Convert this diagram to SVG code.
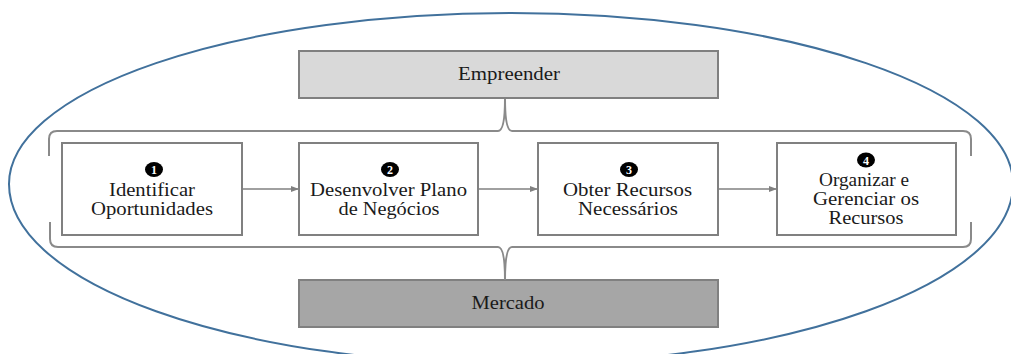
<svg xmlns="http://www.w3.org/2000/svg" width="1011" height="354" viewBox="0 0 1011 354">
<style>
.box{fill:#fff;stroke:#808080;stroke-width:2}
.t{font-family:"Liberation Serif","Times New Roman",serif;font-size:18px;fill:#1a1a1a;text-anchor:middle}
.brace{fill:none;stroke:#8a8a8a;stroke-width:2}
.conn{stroke:#808080;stroke-width:1.6;fill:none;marker-end:url(#ah)}
.num{fill:#000}
.nt{font-family:"Liberation Serif","Times New Roman",serif;font-size:12px;font-weight:bold;fill:#fff;text-anchor:middle}
</style>
<defs>
<marker id="ah" markerWidth="8" markerHeight="6" refX="7" refY="3" orient="auto" markerUnits="userSpaceOnUse">
<path d="M0,0 L8,3 L0,6 Z" fill="#808080"/>
</marker>
</defs>
<rect width="1011" height="354" fill="#fff"/>
<path id="mercado-ellipse" d="M9,184 A502,171 0 0 1 1013,184 A502,180 0 0 1 9,184 Z" fill="none" stroke="#41719c" stroke-width="2"/>
<g id="empreender">
<rect class="box" x="299" y="51" width="419" height="47" style="fill:#d9d9d9"/>
<text class="t" x="509" y="80" textLength="102" lengthAdjust="spacingAndGlyphs">Empreender</text>
</g>
<g id="mercado">
<rect class="box" x="299" y="280" width="419" height="47" style="fill:#a6a6a6"/>
<text class="t" x="508" y="309" textLength="73" lengthAdjust="spacingAndGlyphs">Mercado</text>
</g>
<g id="braces">
<path class="brace" d="M49,156 L49,139 Q49,131 57,131 L498,131 Q505,131 505,99 Q505,131 512,131 L963,131 Q971,131 971,139 L971,156"/>
<path class="brace" d="M50,222 L50,239 Q50,247 58,247 L498,247 Q505,247 505,280 Q505,247 512,247 L963,247 Q971,247 971,239 L971,222"/>
</g>
<g id="n1">
<rect class="box" x="62" y="143" width="180" height="92"/>
<ellipse class="num" cx="154" cy="169.5" rx="9" ry="7.5"/><text class="nt" x="154" y="174">1</text>
<text class="t" x="152" y="196" textLength="86" lengthAdjust="spacingAndGlyphs">Identificar</text>
<text class="t" x="152" y="215" textLength="122" lengthAdjust="spacingAndGlyphs">Oportunidades</text>
</g>
<g id="n2">
<rect class="box" x="299" y="143" width="179" height="92"/>
<ellipse class="num" cx="390" cy="169.5" rx="9" ry="7.5"/><text class="nt" x="390" y="174">2</text>
<text class="t" x="388.5" y="196" textLength="157" lengthAdjust="spacingAndGlyphs">Desenvolver Plano</text>
<text class="t" x="389" y="215" textLength="101" lengthAdjust="spacingAndGlyphs">de Negócios</text>
</g>
<g id="n3">
<rect class="box" x="538" y="143" width="180" height="92"/>
<ellipse class="num" cx="629" cy="169.5" rx="9" ry="7.5"/><text class="nt" x="629" y="174">3</text>
<text class="t" x="627.5" y="196" textLength="129" lengthAdjust="spacingAndGlyphs">Obter Recursos</text>
<text class="t" x="628" y="215" textLength="100" lengthAdjust="spacingAndGlyphs">Necessários</text>
</g>
<g id="n4">
<rect class="box" x="777" y="143" width="179" height="92"/>
<ellipse class="num" cx="866" cy="160" rx="9" ry="7.5"/><text class="nt" x="866" y="164.5">4</text>
<text class="t" x="864" y="186" textLength="90" lengthAdjust="spacingAndGlyphs">Organizar e</text>
<text class="t" x="866" y="205" textLength="106" lengthAdjust="spacingAndGlyphs">Gerenciar os</text>
<text class="t" x="866" y="224" textLength="75" lengthAdjust="spacingAndGlyphs">Recursos</text>
</g>
<g id="connectors">
<line class="conn" x1="242" y1="189" x2="298" y2="189"/>
<line class="conn" x1="478" y1="189" x2="537" y2="189"/>
<line class="conn" x1="718" y1="189" x2="776" y2="189"/>
</g>
</svg>
